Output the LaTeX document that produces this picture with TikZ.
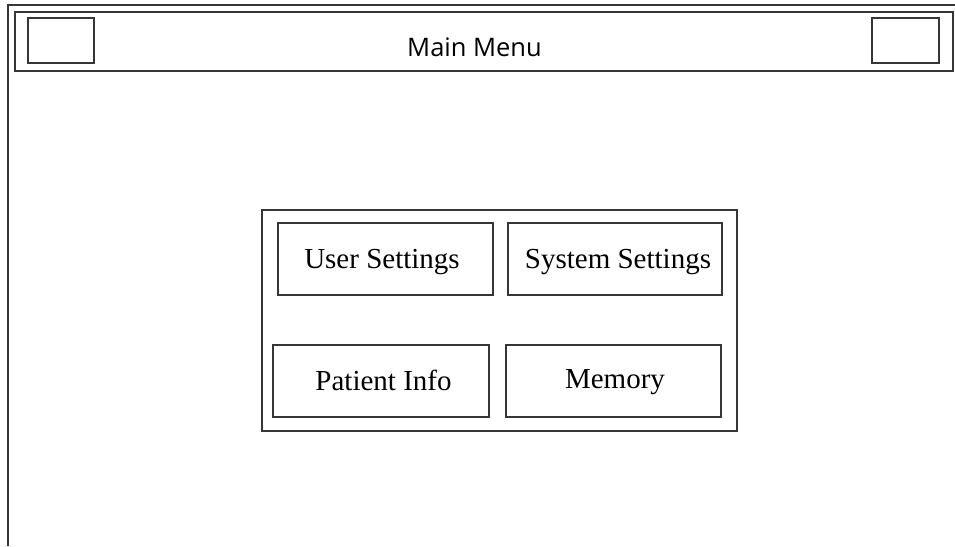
\documentclass[tikz,border=0pt]{standalone}
\usepackage{fontspec}
\setmainfont{Liberation Serif}
\newfontfamily\uifont{Open Sans}
\definecolor{linec}{HTML}{363636}
\begin{document}
\begin{tikzpicture}[x=1pt,y=-1pt,
  box/.style={draw=linec,line width=1.8pt,rectangle,inner sep=0pt},
  btntext/.style={anchor=base,inner sep=0pt,font=\fontsize{29}{32}\selectfont},
  titletext/.style={anchor=base,inner sep=0pt,font=\uifont\fontsize{25.5}{29}\selectfont}]
\useasboundingbox (0,0) rectangle (955,546);
% outer window frame (open at right and bottom)
\coordinate (ftr) at (955,5);
\coordinate (ftl) at (8,5);
\coordinate (fbl) at (8,546);
\draw[linec,line width=1.8pt] (ftr) -- (ftl) -- (fbl);
% title bar
\node[box,minimum width=938,minimum height=59] (bar) at (484,41.5) {};
\node[box,minimum width=66,minimum height=45] (lbtn) at (61,40.5) {};
\node[box,minimum width=67,minimum height=45] (rbtn) at (905.5,40.5) {};
\node[titletext] (title) at (474.5,56) {Main Menu};
% menu group
\node[box,minimum width=475,minimum height=221] (grp) at (499.5,320.5) {};
\node[box,minimum width=215,minimum height=72] (us) at (385.5,259) {};
\node[box,minimum width=214,minimum height=72] (ss) at (615,259) {};
\node[box,minimum width=216,minimum height=72] (pi) at (381,381) {};
\node[box,minimum width=215,minimum height=72] (mm) at (613.5,381) {};
\node[btntext] (ust) at (382,268) {User Settings};
\node[btntext] (sst) at (618,268) {System Settings};
\node[btntext] (pit) at (383.5,390) {Patient Info};
\node[btntext] (mmt) at (615,388) {Memory};
\end{tikzpicture}
\end{document}
